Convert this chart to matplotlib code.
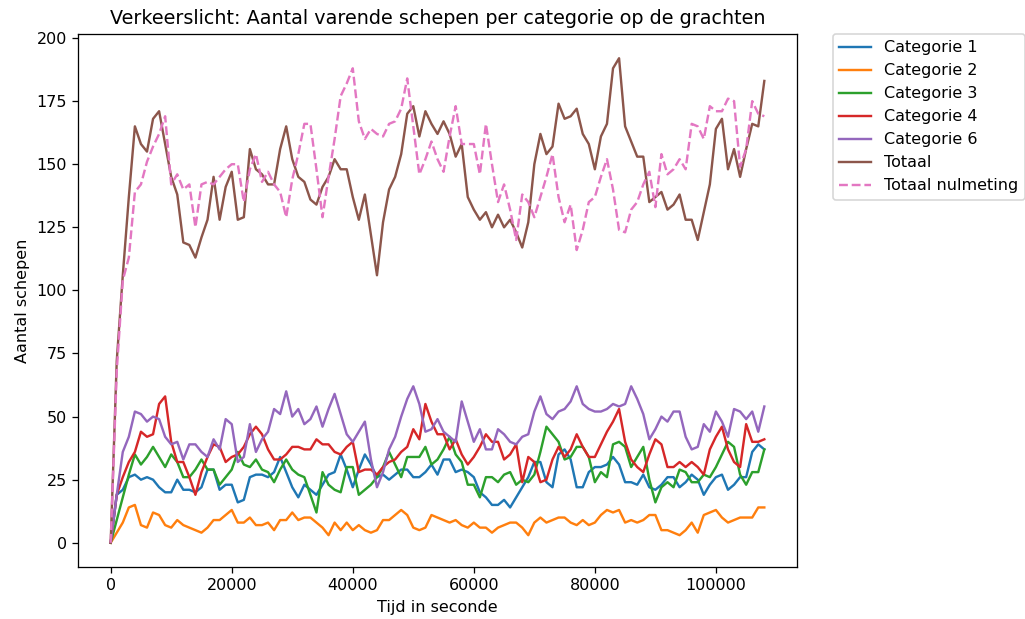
import numpy as np
import matplotlib
matplotlib.use('Agg')
import matplotlib.pyplot as plt

# tijdstappen in seconden (elke 1000 s)
tijd = list(range(0, 109000, 1000))

categorie_1 = [0, 19, 21, 26, 27, 25, 26, 25, 22, 20, 20, 25, 21, 21, 20, 22, 29, 29, 21, 23,
               23, 16, 17, 26, 27, 27, 26, 28, 34, 28, 22, 18, 23, 21, 19,
               23, 27, 28, 35, 29, 22, 29, 35, 31, 26, 27, 25, 27, 29, 29, 26, 26, 28, 31, 27,
               33, 33, 28, 29, 28, 26, 20, 18, 15, 15, 17, 14, 18, 22, 26, 32, 32, 24, 22, 35,
               37, 33, 22, 22, 28, 30, 30, 31, 34, 31, 24, 24, 23, 27, 22, 21, 23, 26, 26, 22,
               24, 27, 25, 19, 23, 26, 27, 21, 23, 26, 26, 36, 39, 37]
categorie_2 = [0, 4, 8, 14, 15, 7, 6, 12, 11, 7, 6, 9, 7, 6, 5, 4, 6, 9, 9, 11,
               13, 8, 8, 10, 7, 7, 8, 5, 9, 9, 12, 9, 10, 10, 8,
               6, 3, 8, 5, 8, 5, 7, 5, 4, 5, 9, 9, 11, 13, 11, 6, 5, 6, 11, 10,
               9, 8, 9, 7, 6, 8, 6, 6, 4, 6, 7, 8, 8, 6, 3, 8, 10, 8, 9, 10,
               10, 8, 7, 9, 7, 8, 11, 13, 12, 13, 8, 9, 8, 9, 11, 11, 5, 5, 4, 3,
               5, 8, 4, 11, 12, 13, 10, 8, 9, 10, 10, 10, 14, 14]
categorie_3 = [0, 9, 18, 27, 35, 31, 34, 38, 34, 30, 35, 32, 26, 26, 29, 33, 29, 29, 23, 26,
               29, 36, 31, 30, 33, 29, 28, 24, 29, 33, 29, 27, 26, 19, 12,
               28, 23, 21, 20, 30, 30, 19, 21, 23, 26, 30, 36, 31, 26, 34, 34, 34, 38, 31, 33,
               37, 42, 35, 32, 23, 23, 18, 26, 26, 24, 27, 28, 23, 25, 24, 27, 36, 46, 43, 40,
               33, 34, 38, 38, 34, 24, 28, 26, 39, 40, 38, 30, 34, 38, 25, 16, 22, 24, 22, 29,
               28, 24, 24, 27, 26, 30, 35, 40, 38, 27, 23, 28, 28, 37]
categorie_4 = [0, 19, 26, 32, 36, 44, 42, 43, 55, 58, 40, 32, 32, 26, 19, 28, 34, 39, 38, 32,
               34, 35, 38, 43, 46, 43, 37, 33, 33, 35, 38, 38, 37, 37, 41,
               39, 39, 36, 35, 38, 40, 28, 29, 29, 27, 30, 32, 33, 36, 38, 45, 41, 55, 48, 43,
               43, 37, 41, 35, 31, 34, 38, 43, 40, 40, 33, 35, 39, 24, 34, 32, 24, 25, 33, 38,
               34, 37, 43, 38, 34, 34, 39, 44, 48, 53, 40, 33, 30, 28, 35, 41, 39, 30, 30, 32,
               30, 32, 30, 27, 37, 42, 46, 37, 32, 30, 47, 40, 40, 41]
categorie_6 = [0, 19, 36, 42, 52, 51, 48, 50, 49, 42, 39, 40, 33, 39, 39, 36, 34, 41, 37, 49,
               47, 32, 34, 47, 36, 41, 44, 53, 51, 60, 50, 53, 47, 49, 54,
               46, 53, 59, 51, 43, 40, 44, 48, 33, 22, 28, 37, 42, 50, 57, 62, 55, 44, 45, 49,
               44, 42, 40, 56, 48, 40, 45, 37, 37, 45, 43, 40, 39, 42, 43, 52, 58, 51, 49, 52,
               53, 56, 62, 55, 53, 52, 52, 53, 55, 54, 55, 62, 57, 51, 41, 45, 50, 48, 52, 52,
               42, 37, 38, 47, 44, 52, 48, 42, 53, 52, 49, 52, 44, 54]
totaal = [0, 72, 106, 137, 165, 158, 155, 168, 171, 158, 145, 138, 119, 118, 113, 121, 128, 145, 128, 141,
          147, 128, 129, 156, 148, 146, 142, 142, 156, 165, 152, 145, 143, 136, 134,
          141, 145, 152, 148, 148, 137, 128, 138, 122, 106, 127, 140, 145, 154, 170, 173, 161, 171, 166, 162,
          167, 162, 153, 158, 137, 132, 128, 131, 125, 130, 125, 128, 123, 117, 127, 150, 162, 154, 157, 174,
          168, 169, 172, 162, 158, 148, 161, 166, 188, 192, 165, 159, 153, 153, 135, 137, 139, 132, 134, 138,
          128, 128, 120, 131, 142, 164, 168, 148, 156, 145, 156, 166, 165, 183]
totaal_nulmeting = [0, 68, 104, 113, 139, 142, 151, 157, 162, 169, 142, 146, 140, 142, 125, 142, 143, 142, 145, 148,
                    150, 150, 135, 148, 154, 143, 147, 142, 139, 129, 144, 154, 166, 166, 148,
                    129, 145, 160, 177, 182, 188, 167, 160, 164, 162, 161, 166, 167, 172, 184, 165, 146, 152, 159, 152,
                    147, 161, 173, 158, 158, 158, 146, 166, 150, 135, 142, 132, 120, 138, 135, 129, 137, 145, 154, 137,
                    127, 134, 116, 124, 135, 137, 145, 152, 140, 124, 123, 132, 135, 142, 147, 133, 154, 146, 148, 152,
                    148, 166, 165, 160, 173, 171, 171, 176, 175, 149, 156, 175, 170, 169]

dpi = 115
fig = plt.figure(figsize=(1025 / dpi, 619 / dpi), dpi=dpi)
ax = fig.add_axes([78 / 1025, 1 - 567 / 619, 719 / 1025, 533 / 619])

ax.plot(tijd, categorie_1, label='Categorie 1')
ax.plot(tijd, categorie_2, label='Categorie 2')
ax.plot(tijd, categorie_3, label='Categorie 3')
ax.plot(tijd, categorie_4, label='Categorie 4')
ax.plot(tijd, categorie_6, label='Categorie 6')
ax.plot(tijd, totaal, label='Totaal')
ax.plot(tijd, totaal_nulmeting, '--', label='Totaal nulmeting')

ax.set_title('Verkeerslicht: Aantal varende schepen per categorie op de grachten')
ax.set_xlabel('Tijd in seconde')
ax.set_ylabel('Aantal schepen')
ax.legend(bbox_to_anchor=(1.05, 1), loc=2, borderaxespad=0.)

fig.savefig('out.png', dpi=dpi)
